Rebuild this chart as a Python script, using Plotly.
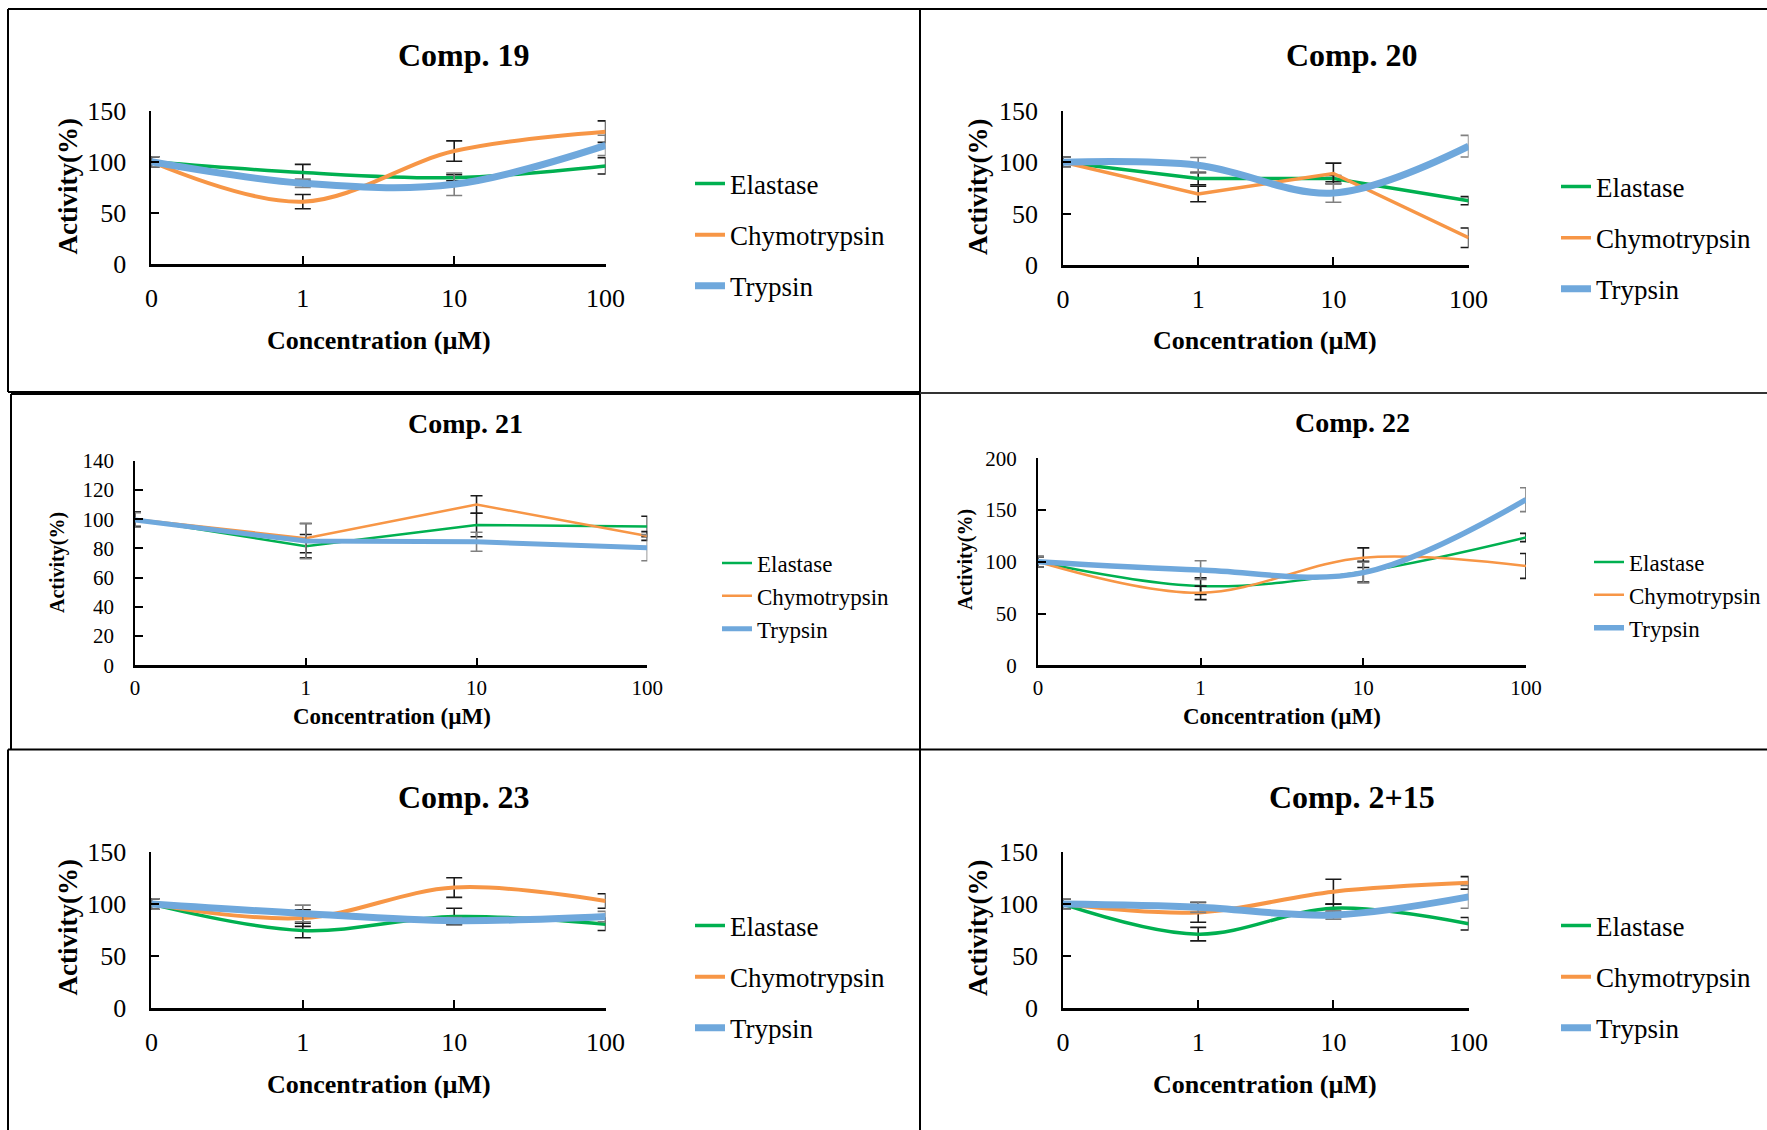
import plotly.graph_objects as go

W, H = 1767, 1130

# ---------------- data ----------------
concentrations = ["0", "1", "10", "100"]
series_names = ["Elastase", "Chymotrypsin", "Trypsin"]
panel_titles = ["Comp. 19", "Comp. 20", "Comp. 21", "Comp. 22", "Comp. 23", "Comp. 2+15"]

# Comp. 19
elastase_19 = [100, 89.5, 84.5, 96]
elastase_19_err = [5, 8, 3, 8]
chymo_19 = [100, 61, 110.5, 129.5]
chymo_19_err = [5, 7, 10, 10.5]
trypsin_19 = [100, 79, 78, 116]
trypsin_19_err = [5, 4, 11, 10]

# Comp. 20
elastase_20 = [100, 84, 84, 62.5]
elastase_20_err = [5, 6, 3, 4]
chymo_20 = [100, 69, 89, 26.5]
chymo_20_err = [5, 7.5, 10, 9.5]
trypsin_20 = [100, 97, 70, 115.5]
trypsin_20_err = [5, 7.5, 9, 10.5]

# Comp. 21
elastase_21 = [100, 81.5, 96, 95]
elastase_21_err = [5, 8, 8, 7]
chymo_21 = [100, 87, 110, 88.5]
chymo_21_err = [5, 10, 6, 3]
trypsin_21 = [99.5, 85, 84.5, 80.5]
trypsin_21_err = [5, 12, 6.5, 9]

# Comp. 22
elastase_22 = [100, 76.5, 90.5, 123.5]
elastase_22_err = [5, 8, 10, 4]
chymo_22 = [100, 70, 104, 96]
chymo_22_err = [5, 6.5, 9.5, 12]
trypsin_22 = [100, 92, 89.5, 160]
trypsin_22_err = [5, 9, 10, 11.5]

# Comp. 23
elastase_23 = [100, 74.5, 88, 80.5]
elastase_23_err = [5, 7, 8, 6]
chymo_23 = [100, 86.5, 116, 103]
chymo_23_err = [5, 8, 9.5, 7]
trypsin_23 = [100, 91, 84, 88]
trypsin_23_err = [5, 8, 3, 5]

# Comp. 2+15
elastase_215 = [100, 71, 96, 81]
elastase_215_err = [5, 6.5, 4, 6]
chymo_215 = [100, 92, 112, 120.5]
chymo_215_err = [5, 9.5, 12, 6]
trypsin_215 = [100, 97, 89.5, 107]
trypsin_215_err = [5, 5, 4, 11]

y_ranges = [[0, 150], [0, 150], [0, 140], [0, 200], [0, 150], [0, 150]]
y_dticks = [50, 50, 20, 50, 50, 50]

# ---------------- styling ----------------
FONT = "Times New Roman, Liberation Serif, serif"
COLORS = ["#00B050", "#F79646", "#6FA8DC"]
ERR_COLORS = ["#1a1a1a", "#1a1a1a", "#808080"]


def fx(px):
    return px / W


def fy(py):
    return 1 - py / H


panel_data = [
    [(elastase_19, elastase_19_err), (chymo_19, chymo_19_err), (trypsin_19, trypsin_19_err)],
    [(elastase_20, elastase_20_err), (chymo_20, chymo_20_err), (trypsin_20, trypsin_20_err)],
    [(elastase_21, elastase_21_err), (chymo_21, chymo_21_err), (trypsin_21, trypsin_21_err)],
    [(elastase_22, elastase_22_err), (chymo_22, chymo_22_err), (trypsin_22, trypsin_22_err)],
    [(elastase_23, elastase_23_err), (chymo_23, chymo_23_err), (trypsin_23, trypsin_23_err)],
    [(elastase_215, elastase_215_err), (chymo_215, chymo_215_err), (trypsin_215, trypsin_215_err)],
]

layout_cfg = [
    dict(x0=151.4, x1=605.6, yb=264, yt=110.7, big=True, clip=False,
         shapes=["spline", "spline", "spline"], widths=[3.5, 4, 7],
         title=(463.6, 55), xt=(378.5, 340), yt_=(67.5, 187), leg=(730, 235)),
    dict(x0=1063, x1=1468.6, yb=265, yt=110.7, big=True, clip=False,
         shapes=["linear", "linear", "spline"], widths=[3.5, 3.5, 7],
         title=(1352, 55), xt=(1265, 340), yt_=(978, 187), leg=(1596, 238)),
    dict(x0=135, x1=647.3, yb=665.3, yt=460.7, big=False, clip=True,
         shapes=["linear", "linear", "linear"], widths=[2.5, 2.5, 5],
         title=(465, 423), xt=(392, 716), yt_=(57, 563), leg=(757, 596)),
    dict(x0=1037.9, x1=1526, yb=665.3, yt=458.3, big=False, clip=True,
         shapes=["spline", "spline", "spline"], widths=[2.5, 2.5, 5.5],
         title=(1352, 422), xt=(1282, 716), yt_=(965, 560), leg=(1629, 595)),
    dict(x0=151.4, x1=605.6, yb=1007.7, yt=852.3, big=True, clip=False,
         shapes=["spline", "spline", "spline"], widths=[3.5, 4, 7],
         title=(463.6, 797), xt=(378.5, 1084), yt_=(67.5, 928), leg=(730, 977)),
    dict(x0=1063, x1=1468.6, yb=1007.7, yt=852.3, big=True, clip=False,
         shapes=["spline", "spline", "spline"], widths=[3.5, 4, 7],
         title=(1352, 797), xt=(1265, 1084), yt_=(978, 928), leg=(1596, 977)),
]

fig = go.Figure()
annotations = []
layout_updates = {}

for i, (cfg, data) in enumerate(zip(layout_cfg, panel_data)):
    n = i + 1
    xa = "x" if n == 1 else f"x{n}"
    ya = "y" if n == 1 else f"y{n}"
    leg = "legend" if n == 1 else f"legend{n}"
    big = cfg["big"]
    tick_size = 26 if big else 21
    axt_size = 26 if big else 23
    yt_size = 27 if big else 20
    title_size = 32 if big else 28
    leg_size = 27 if big else 23
    cap = 8 if big else 6

    for j, ((vals, errs), name) in enumerate(zip(data, series_names)):
        fig.add_trace(go.Scatter(
            x=concentrations, y=vals, name=name, mode="lines",
            line=dict(color=COLORS[j], width=cfg["widths"][j],
                      shape=cfg["shapes"][j], smoothing=1.0),
            error_y=dict(type="data", array=errs, visible=True,
                         color=ERR_COLORS[j], thickness=1.6, width=cap),
            xaxis=xa, yaxis=ya, legend=leg, legendgroup=f"p{n}_{j}",
            cliponaxis=cfg["clip"], showlegend=True,
        ))

    xkey = "xaxis" if n == 1 else f"xaxis{n}"
    ykey = "yaxis" if n == 1 else f"yaxis{n}"
    layout_updates[xkey] = dict(
        domain=[fx(cfg["x0"]), fx(cfg["x1"])], anchor=ya, type="category",
        categoryorder="array", categoryarray=concentrations,
        range=[0, 3], showgrid=False, zeroline=False, showline=True,
        linecolor="black", linewidth=2.5, ticks="inside", ticklen=8,
        tickwidth=1.5, tickcolor="black", ticklabelstandoff=9 if big else 2,
        tickfont=dict(family=FONT, size=tick_size, color="black"),
        fixedrange=True, automargin=False,
    )
    layout_updates[ykey] = dict(
        domain=[fy(cfg["yb"]), fy(cfg["yt"])], anchor=xa,
        range=y_ranges[i], dtick=y_dticks[i], showgrid=False, zeroline=False,
        showline=True, linecolor="black", linewidth=1.8, ticks="inside",
        ticklen=8, tickwidth=1.5, tickcolor="black",
        ticklabelstandoff=18 if big else 15,
        tickfont=dict(family=FONT, size=tick_size, color="black"),
        fixedrange=True, automargin=False,
    )
    layout_updates[leg] = dict(
        x=fx(cfg["leg"][0] - 40), y=fy(cfg["leg"][1]), xanchor="left",
        yanchor="middle", xref="paper", yref="paper",
        font=dict(family=FONT, size=leg_size, color="black"),
        bgcolor="rgba(0,0,0,0)", borderwidth=0,
        traceorder="grouped", tracegroupgap=13 if big else 0,
    )

    annotations.append(dict(
        text=panel_titles[i], x=fx(cfg["title"][0]), y=fy(cfg["title"][1]),
        xref="paper", yref="paper", showarrow=False, xanchor="center", yanchor="middle",
        font=dict(family=FONT, size=title_size, color="black", weight="bold"),
    ))
    annotations.append(dict(
        text="Concentration (µM)", x=fx(cfg["xt"][0]), y=fy(cfg["xt"][1]),
        xref="paper", yref="paper", showarrow=False, xanchor="center", yanchor="middle",
        font=dict(family=FONT, size=axt_size, color="black", weight="bold"),
    ))
    annotations.append(dict(
        text="Activity(%)", x=fx(cfg["yt_"][0]), y=fy(cfg["yt_"][1]),
        xref="paper", yref="paper", showarrow=False, xanchor="center", yanchor="middle",
        textangle=-90,
        font=dict(family=FONT, size=yt_size, color="black", weight="bold"),
    ))

# panel frames (paper coordinates)
def seg(x0, y0, x1, y1, w=2, c="black"):
    return dict(type="line", xref="paper", yref="paper",
                x0=fx(x0), y0=fy(y0), x1=fx(x1), y1=fy(y1),
                line=dict(color=c, width=w))

shapes = [
    seg(8, 9, 1767, 9),            # top edge
    seg(8, 9, 8, 392),             # left of panel 1
    seg(8, 392, 920, 392),         # bottom of panel 1
    seg(920, 9, 920, 1130),        # central divider
    seg(920, 393, 1767, 393, w=1.8, c="#333333"),
    seg(11, 394, 920, 394),        # top of panel 3
    seg(11, 394, 11, 749),         # left of panel 3
    seg(8, 749.5, 1767, 749.5),    # divider above bottom row
    seg(8, 749.5, 8, 1130),        # left of panel 5
]

fig.update_layout(
    width=W, height=H,
    margin=dict(l=0, r=0, t=0, b=0, pad=0, autoexpand=False),
    paper_bgcolor="white", plot_bgcolor="white",
    annotations=annotations, shapes=shapes,
    **layout_updates,
)

fig.write_html(
    "out.html",
    config={"displayModeBar": False},
    post_script=(
        "document.documentElement.style.margin='0';"
        "document.body.style.margin='0';document.body.style.padding='0';"
        "document.body.style.overflow='hidden';"
    ),
)
